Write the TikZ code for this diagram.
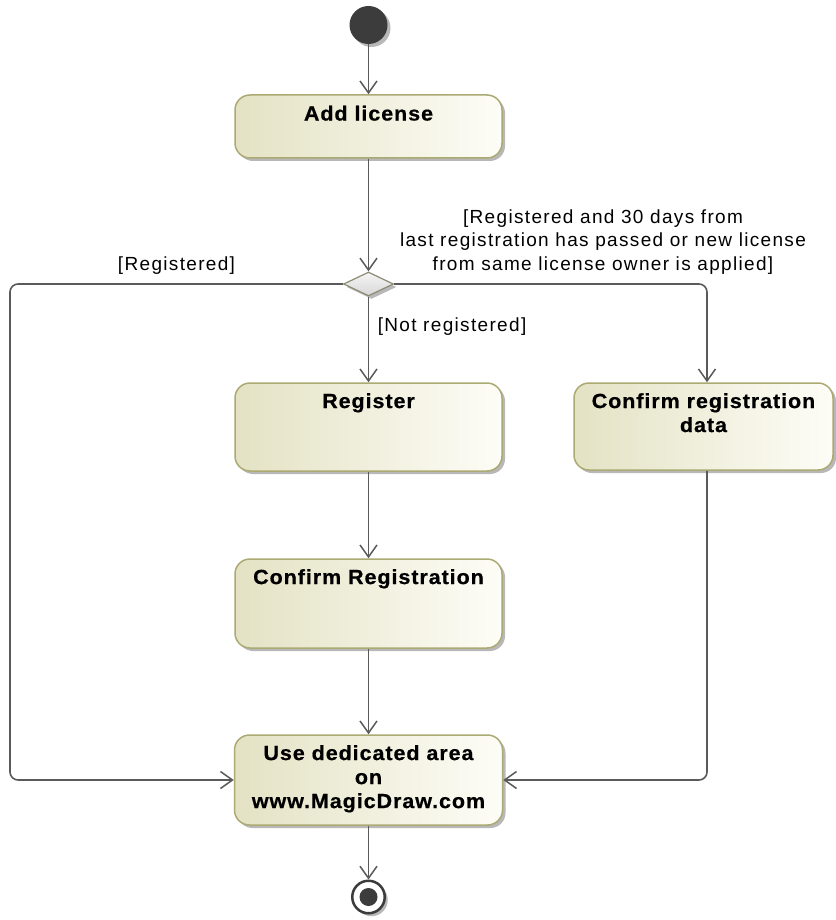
\documentclass[tikz,border=0pt]{standalone}
\usepackage{fontspec}
\setmainfont{Liberation Sans}
\newfontfamily\lblfont{Liberation Sans}[LetterSpace=7]
\newfontfamily\boxfont{Liberation Sans}[FakeStretch=1.05,LetterSpace=4.5,FakeBold=0.6]
\usetikzlibrary{arrows.meta,shapes.geometric,shadows}
\definecolor{boxL}{RGB}{228,226,196}
\definecolor{boxR}{RGB}{253,253,247}
\definecolor{boxB}{RGB}{172,170,115}
\definecolor{flowC}{RGB}{90,90,90}
\definecolor{dotC}{RGB}{60,60,60}
\definecolor{diaB}{RGB}{140,140,115}
\definecolor{diaT}{RGB}{245,245,245}
\definecolor{diaD}{RGB}{215,215,215}
\tikzset{
  shad/.style={drop shadow={shadow xshift=3pt,shadow yshift=-3pt,opacity=.28,fill=black}},
  actbox/.style={draw=boxB, line width=1.5pt, rounded corners=15pt,
    left color=boxL, right color=boxR, inner sep=0pt, shad},
  boxtxt/.style={font=\boxfont\bfseries\fontsize{20.5}{24}\selectfont,
    align=center, inner sep=0pt, anchor=north},
  lbl/.style={font=\lblfont\fontsize{19}{23.5}\selectfont, align=center, inner sep=0pt},
  flow/.style={draw=flowC, line width=1.6pt, rounded corners=8pt,
    -{Straight Barb[length=12pt,width=17pt,line width=1.5pt]}}
}
\begin{document}
\begin{tikzpicture}[x=1pt,y=-1pt]
\fill[white] (0,0) rectangle (835,920);
\useasboundingbox (0,0) rectangle (835,920);

% nodes
\node[circle, fill=dotC, minimum size=38pt, inner sep=0pt, shad] (init) at (368.5,25) {};
\node[actbox, minimum width=267pt, minimum height=63pt] (add) at (368.5,126.5) {};
\node[boxtxt] (addT) at (368.5,105.5) {Add license};

\node[diamond, minimum width=50pt, minimum height=24pt, inner sep=0pt,
      draw=diaB, line width=1.2pt, top color=diaT, bottom color=diaD, shad] (dec) at (368.5,284) {};

\node[actbox, minimum width=267pt, minimum height=88pt] (reg) at (368.5,427) {};
\node[boxtxt] (regT) at (368.5,393) {Register};

\node[actbox, minimum width=259pt, minimum height=87pt] (cd) at (703.5,426.5) {};
\node[boxtxt] (cdT) at (703.5,393) {Confirm registration\\data};

\node[actbox, minimum width=267pt, minimum height=89pt] (cr) at (368.5,603.5) {};
\node[boxtxt] (crT) at (368.5,569) {Confirm Registration};

\node[actbox, minimum width=268pt, minimum height=90pt] (use) at (368.5,780) {};
\node[boxtxt] (useT) at (368.5,745) {Use dedicated area\\on\\www.MagicDraw.com};

\node[circle, draw=dotC, line width=2.5pt, fill=white, minimum size=32.5pt, inner sep=0pt, shad] (fin) at (368.5,897) {};
\node[circle, fill=dotC, minimum size=18pt, inner sep=0pt] (finIn) at (fin.center) {};

% guard labels
\node[lbl, anchor=north] (gTop) at (603,209.2) {[Registered and 30 days from\\last registration has passed or new license\\from same license owner is applied]};
\node[lbl, anchor=base] (gReg) at (176.5,270) {[Registered]};
\node[lbl, anchor=base west] (gNot) at (377.6,331) {[Not registered]};

% connectors
\coordinate (lc) at (10,284);
\draw[flow] (init) -- (add.north);
\draw[flow] (add.south) -- (dec.north);
\draw[flow] (dec.west) -- (lc) |- (use.west);
\draw[flow] (dec.east) -| ([xshift=3.5pt]cd.north);
\draw[flow] (dec.south) -- (reg.north);
\draw[flow] (reg.south) -- (cr.north);
\draw[flow] (cr.south) -- (use.north);
\draw[flow] ([xshift=3.5pt]cd.south) |- (use.east);
\draw[flow] (use.south) -- (fin.north);
\end{tikzpicture}
\end{document}
